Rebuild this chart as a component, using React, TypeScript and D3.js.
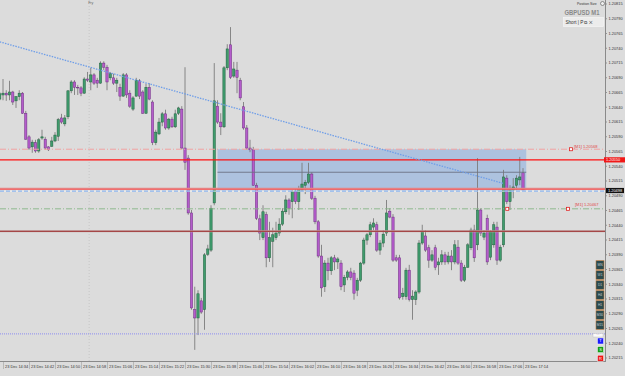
import { useEffect, useRef } from "react";
import * as d3 from "d3";

// GBPUSD M1 candles, one per minute starting 23 Dec 14:33
const opens = [
  1.20653, 1.2066, 1.20663, 1.2066, 1.20665, 1.2065, 1.20657, 1.20663, 1.20629, 1.20589,
  1.20572, 1.20579, 1.20565, 1.20587, 1.20585, 1.20572, 1.20573, 1.20582, 1.2059, 1.20621,
  1.20611, 1.20623, 1.20667, 1.20682, 1.20673, 1.20672, 1.20663, 1.20687, 1.20682, 1.20694,
  1.20685, 1.2068, 1.20714, 1.20707, 1.20689, 1.20689, 1.2068, 1.20673, 1.20658, 1.20694,
  1.20663, 1.20636, 1.20658, 1.20684, 1.20665, 1.20629, 1.20673, 1.20648, 1.20579, 1.20594,
  1.20614, 1.20628, 1.20604, 1.20619, 1.20606, 1.20629, 1.20636, 1.2057, 1.20553, 1.2046,
  1.20296, 1.20282, 1.20311, 1.20296, 1.2039, 1.20397, 1.20477, 1.20641, 1.20614, 1.20606,
  1.20706, 1.20745, 1.20692, 1.20702, 1.20685, 1.2064, 1.20604, 1.2057, 1.20567, 1.20507,
  1.2045, 1.20418, 1.20457, 1.20384, 1.20412, 1.20418, 1.20426, 1.20441, 1.20462, 1.20482,
  1.20479, 1.20496, 1.20479, 1.20499, 1.20507, 1.20512, 1.20526, 1.20485, 1.20445, 1.20387,
  1.20335, 1.20375, 1.20362, 1.20384, 1.20377, 1.20375, 1.20338, 1.20351, 1.2036, 1.20358,
  1.20329, 1.20346, 1.20375, 1.20414, 1.20423, 1.20436, 1.2044, 1.20397, 1.20409, 1.20426,
  1.20463, 1.20453, 1.20384, 1.20384, 1.20318, 1.20318, 1.20363, 1.20313, 1.20313, 1.20326,
  1.20409, 1.20421, 1.20401, 1.2038, 1.20401, 1.20372, 1.20377, 1.20389, 1.20377, 1.20387,
  1.20377, 1.20402, 1.20375, 1.20346, 1.20368, 1.20401, 1.20431, 1.20406, 1.20465, 1.20419,
  1.20451, 1.20385, 1.20406, 1.20436, 1.2038, 1.20406, 1.20519, 1.20479, 1.20499, 1.20507,
  1.20516, 1.20528,
];
const highs = [
  1.20665, 1.20687, 1.20668, 1.20684, 1.20667, 1.20658, 1.20668, 1.20665, 1.20633, 1.20592,
  1.20584, 1.20584, 1.20587, 1.20601, 1.20589, 1.20573, 1.20589, 1.20597, 1.20621, 1.20628,
  1.20626, 1.20668, 1.20685, 1.20685, 1.20677, 1.20675, 1.2069, 1.20699, 1.20706, 1.20697,
  1.20689, 1.20717, 1.20717, 1.20711, 1.20699, 1.20696, 1.20689, 1.20679, 1.20697, 1.20697,
  1.20668, 1.20658, 1.20689, 1.20687, 1.20668, 1.20679, 1.2068, 1.20651, 1.20601, 1.20621,
  1.20631, 1.20635, 1.20621, 1.20623, 1.20635, 1.2064, 1.20641, 1.20707, 1.20558, 1.20465,
  1.20335, 1.20329, 1.20316, 1.20392, 1.20406, 1.20473, 1.20714, 1.20651, 1.20629, 1.20709,
  1.20746, 1.20775, 1.20716, 1.20716, 1.20689, 1.20648, 1.20609, 1.20584, 1.20572, 1.20511,
  1.20457, 1.20473, 1.20462, 1.20445, 1.20435, 1.20445, 1.20451, 1.20468, 1.2049, 1.20485,
  1.20499, 1.20502, 1.20506, 1.20545, 1.20516, 1.20545, 1.20529, 1.20489, 1.20448, 1.20406,
  1.2038, 1.20384, 1.20387, 1.20389, 1.20385, 1.2038, 1.20355, 1.20363, 1.20367, 1.20363,
  1.2035, 1.20377, 1.20418, 1.20426, 1.20445, 1.20451, 1.20445, 1.20414, 1.20431, 1.20482,
  1.20468, 1.20458, 1.20389, 1.20389, 1.20333, 1.20367, 1.20372, 1.20329, 1.20329, 1.20414,
  1.2044, 1.20431, 1.20406, 1.20397, 1.20406, 1.20384, 1.20397, 1.20394, 1.20394, 1.20397,
  1.20414, 1.20414, 1.2038, 1.20372, 1.20409, 1.20435, 1.2044, 1.20553, 1.20468, 1.20431,
  1.20457, 1.20431, 1.20445, 1.20445, 1.20406, 1.20533, 1.20524, 1.20507, 1.20519, 1.20524,
  1.20555, 1.20536,
];
const lows = [
  1.20651, 1.20651, 1.2065, 1.20651, 1.20643, 1.20638, 1.20651, 1.20628, 1.20584, 1.20567,
  1.20562, 1.20562, 1.20562, 1.20584, 1.20567, 1.20565, 1.20572, 1.2058, 1.20582, 1.20611,
  1.20607, 1.20619, 1.20663, 1.2066, 1.2066, 1.20658, 1.20662, 1.20682, 1.20668, 1.20677,
  1.20672, 1.20679, 1.20702, 1.20668, 1.20685, 1.20677, 1.20665, 1.2065, 1.20657, 1.20655,
  1.20638, 1.20633, 1.20657, 1.20653, 1.20628, 1.20628, 1.20651, 1.20575, 1.20575, 1.20592,
  1.20607, 1.20601, 1.20601, 1.20604, 1.20604, 1.20626, 1.20568, 1.20533, 1.20457, 1.20296,
  1.20228, 1.20253, 1.20289, 1.20262, 1.20387, 1.20394, 1.20473, 1.20611, 1.20592, 1.20604,
  1.20702, 1.20687, 1.20689, 1.20663, 1.20651, 1.20601, 1.20567, 1.20563, 1.20506, 1.20448,
  1.20414, 1.20414, 1.20368, 1.20377, 1.20368, 1.20414, 1.20421, 1.20438, 1.20458, 1.20457,
  1.20451, 1.20475, 1.20465, 1.20496, 1.20492, 1.20509, 1.20482, 1.20441, 1.20384, 1.20318,
  1.20326, 1.20346, 1.20355, 1.20363, 1.20365, 1.20329, 1.20326, 1.20346, 1.20346, 1.20313,
  1.20319, 1.20343, 1.20372, 1.20406, 1.20419, 1.20431, 1.20394, 1.20389, 1.20402, 1.20421,
  1.20451, 1.20377, 1.20377, 1.20313, 1.20313, 1.20313, 1.2031, 1.20279, 1.20304, 1.20323,
  1.20406, 1.20394, 1.20367, 1.20377, 1.20363, 1.20355, 1.20372, 1.20372, 1.20373, 1.20363,
  1.20373, 1.20372, 1.20343, 1.20343, 1.20367, 1.20397, 1.20377, 1.20397, 1.20421, 1.20414,
  1.20372, 1.2038, 1.20401, 1.20372, 1.20377, 1.20402, 1.20475, 1.20465, 1.20485, 1.20499,
  1.20507, 1.20499,
];
const closes = [
  1.20662, 1.20663, 1.2066, 1.20665, 1.20648, 1.20657, 1.20663, 1.20629, 1.20585, 1.2057,
  1.2058, 1.20565, 1.20584, 1.20589, 1.2057, 1.20567, 1.20582, 1.20592, 1.20618, 1.20614,
  1.20621, 1.20667, 1.20682, 1.20673, 1.20672, 1.20663, 1.20687, 1.20685, 1.20694, 1.2068,
  1.2068, 1.20714, 1.20707, 1.20682, 1.20696, 1.2068, 1.20685, 1.20658, 1.20694, 1.2066,
  1.20641, 1.20655, 1.20685, 1.20658, 1.20629, 1.20673, 1.20653, 1.20579, 1.20597, 1.20614,
  1.20628, 1.20604, 1.20619, 1.20606, 1.20628, 1.20638, 1.2057, 1.20546, 1.2046, 1.20299,
  1.20282, 1.20323, 1.20292, 1.20389, 1.20399, 1.20468, 1.2065, 1.20614, 1.20606, 1.20706,
  1.20738, 1.2069, 1.20704, 1.2069, 1.20655, 1.20604, 1.2057, 1.20567, 1.20507, 1.20451,
  1.20426, 1.20462, 1.20384, 1.20418, 1.20423, 1.20426, 1.20441, 1.20463, 1.20482, 1.20468,
  1.20496, 1.20479, 1.20501, 1.20509, 1.20512, 1.20526, 1.20485, 1.20445, 1.20387, 1.20333,
  1.20375, 1.20362, 1.20384, 1.20377, 1.20382, 1.20335, 1.20351, 1.2036, 1.20351, 1.20324,
  1.20346, 1.20375, 1.20414, 1.20423, 1.2044, 1.20443, 1.20397, 1.20409, 1.20424, 1.2046,
  1.20453, 1.2038, 1.2038, 1.20316, 1.20324, 1.20363, 1.20313, 1.20319, 1.20326, 1.20409,
  1.20428, 1.20397, 1.2038, 1.20389, 1.20368, 1.20377, 1.20389, 1.20377, 1.20387, 1.20377,
  1.20406, 1.20375, 1.20346, 1.20368, 1.20406, 1.20431, 1.20384, 1.20465, 1.20426, 1.20426,
  1.20377, 1.20428, 1.2044, 1.2038, 1.20402, 1.20521, 1.20479, 1.20502, 1.20504, 1.20519,
  1.20521, 1.20499,
];

const timeTicks = [
  "14:34", "14:42", "14:50", "14:58", "15:06", "15:14", "15:22", "15:30", "15:38", "15:46", "15:54",
  "16:02", "16:10", "16:18", "16:26", "16:34", "16:42", "16:50", "16:58", "17:06", "17:14",
];
const priceTicks = [
  1.20215, 1.2024, 1.20265, 1.2029, 1.20315, 1.2034, 1.20365, 1.2039, 1.20415, 1.2044, 1.20465,
  1.2049, 1.20515, 1.2054, 1.20565, 1.2059, 1.20615, 1.2064, 1.20665, 1.2069, 1.20715, 1.2074,
  1.20765, 1.2079, 1.20815,
];
const tfButtons = ["MN", "W1", "D1", "H4", "H1", "M30", "M15"];

// drawn objects
const tpLevel = 1.20568;
const redLevel = 1.2055;
const entryLevel = 1.20529;
const slLevel = 1.20501;
const bidLevel = 1.20498;
const greenLevel = 1.20467;
const darkRedLevel = 1.20429;
const lowLevel = 1.20255;
const boxTimes = ["15:40", "17:15"];
const trendTimes = ["14:33", "17:08"];
const trendPrices = [1.2075, 1.2051];
const separatorTime = "15:00";

const at = (hm) => {
  const [h, m] = hm.split(":").map(Number);
  return new Date(2020, 11, 23, h, m);
};

export default function App() {
  const ref = useRef(null);

  useEffect(() => {
    const svg = d3.select(ref.current);
    svg.selectAll("*").remove();

    const W = 625;
    const H = 376;
    const plotRight = 605;
    const plotBottom = 361;
    const font = "'Liberation Sans', Arial, sans-serif";

    const x = d3.scaleTime().domain([at("14:34"), at("17:14")]).range([3, 523]);
    const y = d3.scaleLinear().domain([1.20215, 1.20815]).range([357.5, 3.5]);

    svg.append("rect").attr("width", W).attr("height", H).attr("fill", "#dcdcdc");

    svg.append("defs").append("clipPath").attr("id", "plotClip")
      .append("rect").attr("width", plotRight).attr("height", plotBottom);

    const plot = svg.append("g").attr("clip-path", "url(#plotClip)");

    // vertical separator + label
    const sx = x(d3.timeSecond.offset(at(separatorTime), 30));
    plot.append("line").attr("x1", sx).attr("x2", sx).attr("y1", 0).attr("y2", plotBottom)
      .attr("stroke", "#c6c6c6").attr("stroke-dasharray", "1,2");
    svg.append("text").attr("x", sx - 1).attr("y", 4).attr("font-size", 3.6)
      .attr("font-family", font).attr("fill", "#666").text("Fry");

    // position box
    const bx0 = x(at(boxTimes[0]));
    const bx1 = x(at(boxTimes[1]));
    plot.append("rect").attr("x", bx0).attr("width", bx1 - bx0)
      .attr("y", y(tpLevel)).attr("height", y(bidLevel) - y(tpLevel))
      .attr("fill", "#adc2df");

    // candles
    const candles = closes.map((c, i) => ({
      t: d3.timeMinute.offset(at("14:33"), i),
      o: opens[i], h: highs[i], l: lows[i], c,
    }));

    plot.selectAll(".wick").data(candles).join("line")
      .attr("class", "wick")
      .attr("x1", (d) => x(d.t)).attr("x2", (d) => x(d.t))
      .attr("y1", (d) => y(d.h)).attr("y2", (d) => y(d.l))
      .attr("stroke", "#7c7c7c").attr("stroke-width", 0.9);

    plot.selectAll(".body").data(candles).join("rect")
      .attr("class", "body")
      .attr("x", (d) => x(d.t) - 1.15)
      .attr("width", 2.3)
      .attr("y", (d) => y(Math.max(d.o, d.c)))
      .attr("height", (d) => Math.max(0.7, Math.abs(y(d.o) - y(d.c))))
      .attr("fill", (d) => (d.c >= d.o ? "#3f9c6d" : "#b45ccb"))
      .attr("stroke", (d) => (d.c >= d.o ? "#22603f" : "#6e2f82"))
      .attr("stroke-width", 0.5);

    // horizontal levels
    const hline = (p, color, width, dash) =>
      plot.append("line").attr("x1", 0).attr("x2", plotRight)
        .attr("y1", y(p)).attr("y2", y(p))
        .attr("stroke", color).attr("stroke-width", width)
        .attr("stroke-dasharray", dash || null);

    hline(tpLevel, "#f2a2a2", 1, "6,2,1,2");
    hline(redLevel, "#ff1010", 1.4);
    hline(slLevel, "#e58888", 2);
    hline(bidLevel + 0.00002, "#ff4040", 0.6);
    hline(bidLevel - 0.00001, "#f4f4f4", 0.9);
    hline(bidLevel - 0.00001, "#78a8ee", 1, "4,2");
    hline(greenLevel, "#86b486", 0.9, "6,2,1,2");
    hline(darkRedLevel, "#c8b0b0", 2.2);
    hline(darkRedLevel, "#9a2424", 1.1);
    hline(lowLevel, "#8c8cf0", 1, "1,1");

    // entry line inside position box
    plot.append("line").attr("x1", bx0).attr("x2", bx1)
      .attr("y1", y(entryLevel)).attr("y2", y(entryLevel))
      .attr("stroke", "#6c7284").attr("stroke-width", 0.9);

    // trendline
    const trend = trendTimes.map((t, i) => [x(at(t)), y(trendPrices[i])]);
    plot.append("path").attr("d", d3.line()(trend))
      .attr("fill", "none").attr("stroke", "#6f9ee8")
      .attr("stroke-width", 1.3).attr("stroke-dasharray", "1.5,1.2");

    // order markers
    const marker = (mx, p) =>
      svg.append("rect").attr("x", mx - 1.5).attr("y", y(p) - 1.5)
        .attr("width", 3).attr("height", 3)
        .attr("fill", "#fff").attr("stroke", "#e02020").attr("stroke-width", 0.8);
    marker(x(at("17:09")) + 0.5, greenLevel);
    marker(571, tpLevel);
    marker(568, greenLevel);

    svg.append("text").attr("x", 574).attr("y", y(tpLevel) - 1.5)
      .attr("font-size", 4).attr("font-family", font).attr("fill", "#e04848")
      .text(`[M1] ${tpLevel.toFixed(5)}`);
    svg.append("text").attr("x", 575).attr("y", y(greenLevel) - 3)
      .attr("font-size", 4).attr("font-family", font).attr("fill", "#e04848")
      .text(`[M1] ${greenLevel.toFixed(5)}`);

    // bottom axis
    const xAxis = svg.append("g").attr("transform", `translate(0,${plotBottom})`)
      .call(d3.axisBottom(x)
        .tickValues(timeTicks.map(at))
        .tickFormat(d3.timeFormat("%d %b %H:%M"))
        .tickSize(8).tickSizeOuter(0));
    xAxis.select(".domain").remove();
    xAxis.selectAll(".tick line").attr("stroke", "#a0a0a0").attr("stroke-width", 0.6);
    xAxis.selectAll(".tick text")
      .attr("text-anchor", "start").attr("x", 1.5).attr("y", 4.5).attr("dy", "0.7em")
      .attr("font-size", 3.9).attr("font-family", font).attr("fill", "#333");
    svg.append("line").attr("x1", 0).attr("x2", plotRight)
      .attr("y1", plotBottom + 0.5).attr("y2", plotBottom + 0.5)
      .attr("stroke", "#8a8a8a");

    // right axis
    const yAxis = svg.append("g").attr("transform", `translate(${plotRight},0)`)
      .call(d3.axisRight(y)
        .tickValues(priceTicks)
        .tickFormat((d) => (+d).toFixed(5))
        .tickSize(2).tickSizeOuter(0));
    yAxis.select(".domain").remove();
    yAxis.selectAll(".tick line").attr("stroke", "#666").attr("stroke-width", 0.6);
    yAxis.selectAll(".tick text").attr("x", 3.5)
      .attr("font-size", 3.9).attr("font-family", font).attr("fill", "#333");
    svg.append("line").attr("x1", plotRight + 0.5).attr("x2", plotRight + 0.5)
      .attr("y1", 0).attr("y2", plotBottom + 1)
      .attr("stroke", "#8a8a8a");

    // price tags
    const tag = (p, bg, x0, w) => {
      svg.append("rect").attr("x", x0).attr("y", y(p) - 2.6).attr("width", w).attr("height", 5.2)
        .attr("fill", bg);
      svg.append("text").attr("x", x0 + 2).attr("y", y(p)).attr("dy", "0.35em")
        .attr("font-size", 3.9).attr("font-family", font).attr("fill", "#fff")
        .text(p.toFixed(5));
    };
    tag(redLevel, "#f01818", 604, 21);
    tag(bidLevel, "#111", 606, 18);

    // top right panel
    svg.append("text").attr("x", 577).attr("y", 5).attr("font-size", 3.4)
      .attr("font-family", font).attr("fill", "#333").text("Position Size");
    svg.append("circle").attr("cx", 602.5).attr("cy", 3.5).attr("r", 2)
      .attr("fill", "#eee").attr("stroke", "#555").attr("stroke-width", 0.6);
    svg.append("text").attr("x", 564.5).attr("y", 14.5).attr("font-size", 8)
      .attr("font-weight", "bold").attr("font-family", font).attr("fill", "#8a8a8a")
      .attr("textLength", 35).attr("lengthAdjust", "spacingAndGlyphs").text("GBPUSD M1");
    svg.append("rect").attr("x", 563.5).attr("y", 17.5).attr("width", 40).attr("height", 9)
      .attr("fill", "#ececec").attr("stroke", "#f8f8f8").attr("stroke-width", 0.6);
    svg.append("text").attr("x", 565.5).attr("y", 24).attr("font-size", 4.6)
      .attr("font-family", font).attr("fill", "#333").text("Short | P ⧉ ✕");

    // timeframe buttons
    const btn = svg.append("g");
    tfButtons.forEach((tf, i) => {
      const by = 260.7 + i * 10;
      btn.append("rect").attr("x", 596).attr("y", by).attr("width", 8).attr("height", 8.6)
        .attr("fill", "#2b4a4e").attr("stroke", "#c07a3c").attr("stroke-width", 0.6);
      btn.append("text").attr("x", 600).attr("y", by + 4.3).attr("dy", "0.35em")
        .attr("text-anchor", "middle").attr("font-size", 3.3)
        .attr("font-family", font).attr("fill", "#c8c8c8").text(tf);
    });
    svg.append("rect").attr("x", 593).attr("y", 333.5).attr("width", 10).attr("height", 3.5)
      .attr("fill", "#fafafa").attr("stroke", "#bbb").attr("stroke-width", 0.4);
    svg.append("text").attr("x", 598).attr("y", 336.3).attr("text-anchor", "middle")
      .attr("font-size", 2.8).attr("font-family", font).attr("fill", "#666").text("···");
    [["T", "#1a1aff"], ["S", "#14a014"], ["R", "#ee1414"]].forEach(([l, c], i) => {
      const by = 338 + i * 8.6;
      btn.append("rect").attr("x", 597.5).attr("y", by).attr("width", 6).attr("height", 6)
        .attr("fill", c).attr("stroke", "#f4f4f4").attr("stroke-width", 0.5);
      btn.append("text").attr("x", 600.5).attr("y", by + 3).attr("dy", "0.35em")
        .attr("text-anchor", "middle").attr("font-size", 4)
        .attr("font-family", font).attr("fill", "#fff").text(l);
    });
  }, []);

  return (
    <svg
      ref={ref}
      width={625}
      height={376}
      style={{ position: "fixed", left: 0, top: 0, display: "block" }}
    />
  );
}
